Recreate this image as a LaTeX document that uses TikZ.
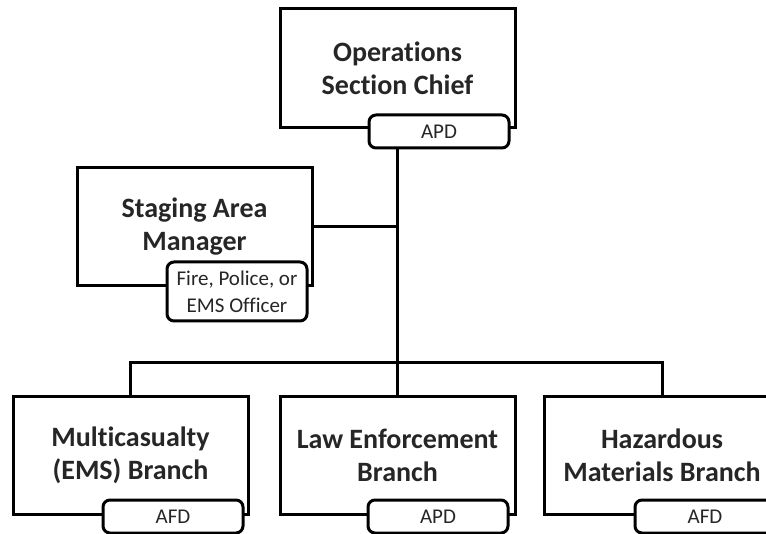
\documentclass[tikz,border=0pt]{standalone}
\usepackage{fontspec}
\setmainfont{Carlito}[Ligatures=NoCommon]
\pgfdeclarelayer{bg}
\pgfsetlayers{bg,main}
\tikzset{
  unitbox/.style={draw=black, line width=3pt, fill=white, minimum width=235pt, minimum height=118pt, align=center, font=\fontsize{28}{33}\selectfont\bfseries, text=black!85, inner sep=0pt},
  tagbox/.style={draw=black, line width=3pt, fill=white, rounded corners=7pt, minimum width=140pt, align=center, font=\fontsize{21}{27}\selectfont, text=black!85, inner sep=0pt},
  link/.style={draw=black, line width=3pt}
}
\begin{document}
\begin{tikzpicture}[x=1pt,y=-1pt]
\useasboundingbox (0,0) rectangle (766,534);
\clip (0,0) rectangle (766,534);
\node[unitbox, minimum height=119pt] (ops) at (397.5,68.5) {Operations\\Section Chief};
\node[tagbox, minimum height=33pt] (opstag) at (439,131.5) {APD};
\node[unitbox] (stag) at (194.5,227) {Staging Area\\Manager};
\node[tagbox, minimum height=59pt] (stagtag) at (237,291.5) {Fire, Police, or\\EMS Officer};
\node[unitbox, minimum height=117pt] (multi) at (130.5,455.5) {Multicasualty\\(EMS) Branch};
\node[tagbox, minimum height=33pt] (multitag) at (173,516.5) {AFD};
\node[unitbox, minimum height=117pt] (law) at (397.5,455.5) {Law Enforcement\\Branch};
\node[tagbox, minimum height=33pt] (lawtag) at (438,516.5) {APD};
\node[unitbox, minimum height=117pt] (haz) at (662,455.5) {Hazardous\\Materials Branch};
\node[tagbox, minimum height=33pt] (haztag) at (705,516.5) {AFD};
\coordinate (bus) at (397.5,363);
\begin{pgfonlayer}{bg}
\fill[white] (0,0) rectangle (766,534);
\draw[link] (ops.south) -- (law.north);
\draw[link] (stag.east) -- (ops.south |- stag.east);
\draw[link] (multi.north) |- (bus) -| (haz.north);
\end{pgfonlayer}
\end{tikzpicture}
\end{document}
